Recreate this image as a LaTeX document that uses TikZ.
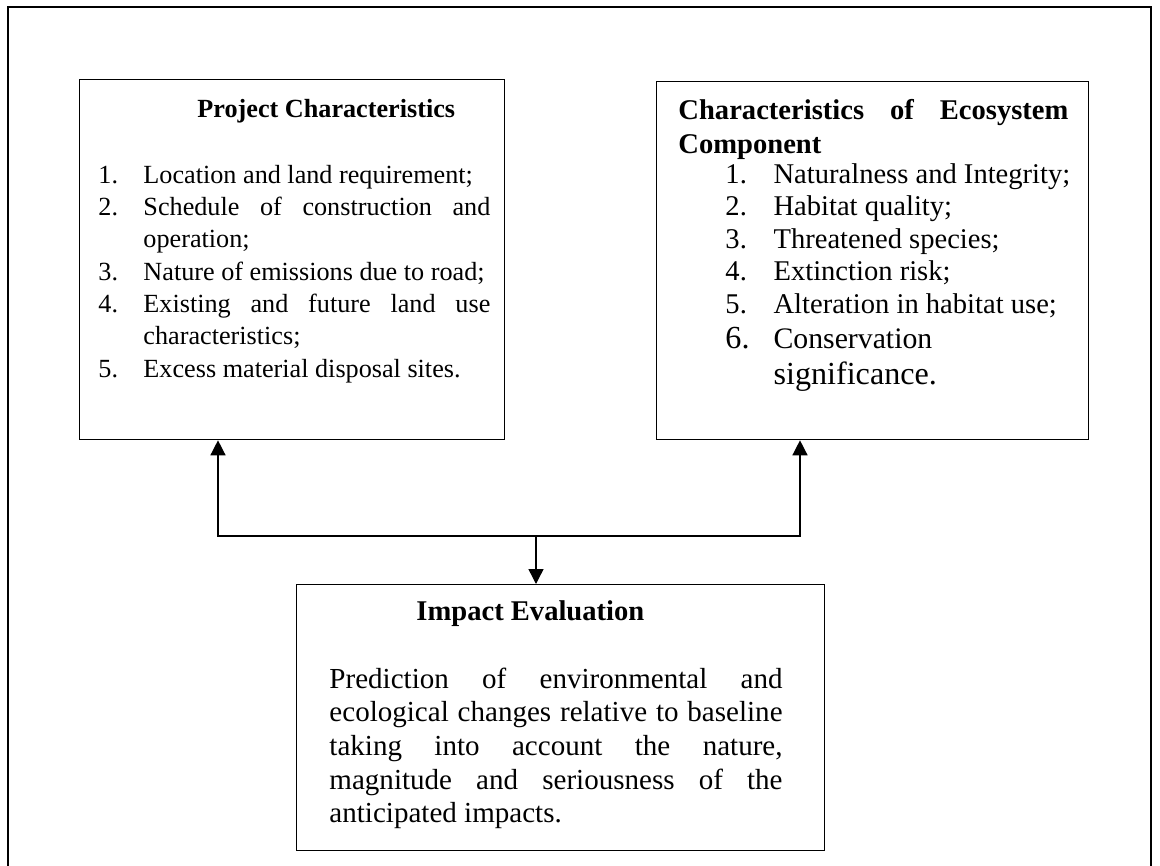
\documentclass[tikz,border=0pt]{standalone}
\usepackage{fontspec}
\setmainfont{Liberation Serif}
\usetikzlibrary{arrows.meta}

% numbered line with hanging indent
\newcommand{\numitem}[3]{\hangindent=#1\hangafter=1\noindent\makebox[#1][l]{#2}#3\par}
\hyphenpenalty=10000
\exhyphenpenalty=10000

\begin{document}
\begin{tikzpicture}[x=0.42pt, y=-0.42pt,
		boxframe/.style={draw, line width=0.55pt, anchor=north west, inner sep=0pt},
		head/.style={anchor=base west, inner sep=0pt},
		textblock/.style={anchor=base west, inner sep=0pt, align=justify},
		link/.style={line width=0.6pt, -{Triangle[length=6.3pt, width=6.3pt]}}]
	\useasboundingbox (0,0) rectangle (1160,866);
	\draw[line width=0.6pt] (8,866) -- (8,7) -- (1151,7) -- (1151,866);

	\node[boxframe, minimum width=178.5pt, minimum height=151.2pt] (projBox) at (79,79) {};
	\node[boxframe, minimum width=181.44pt, minimum height=150.36pt] (ecoBox) at (656,81) {};
	\node[boxframe, minimum width=221.76pt, minimum height=111.72pt] (impactBox) at (296,584) {};

	\node[head, font=\bfseries\fontsize{11}{13.6}\selectfont] (projHead) at (197,117) {Project Characteristics};
	\node[textblock, text width=164.6pt, font=\fontsize{11}{13.6}\selectfont] (projList) at (98,183) {%
		\numitem{18.9pt}{1.}{Location and land requirement;}%
		\numitem{18.9pt}{2.}{Schedule of construction and\linebreak operation;}%
		\numitem{18.9pt}{3.}{Nature of emissions due to road;}%
		\numitem{18.9pt}{4.}{Existing and future land use\linebreak characteristics;}%
		\numitem{18.9pt}{5.}{Excess material disposal sites.}%
	};

	\node[textblock, text width=163.8pt, font=\bfseries\fontsize{12}{14.3}\selectfont] (ecoHead) at (678,119) {Characteristics of Ecosystem\linebreak Component};
	\node[textblock, text width=147.4pt, font=\fontsize{12}{13.65}\selectfont] (ecoList) at (725,183) {%
		\numitem{20.2pt}{1.}{Naturalness and Integrity;}%
		\numitem{20.2pt}{2.}{Habitat quality;}%
		\numitem{20.2pt}{3.}{Threatened species;}%
		\numitem{20.2pt}{4.}{Extinction risk;}%
		\numitem{20.2pt}{5.}{Alteration in habitat use;}%
		\fontsize{13.5}{15.1}\selectfont
		\numitem{20.2pt}{6.}{{\fontsize{12.5}{15.1}\selectfont Conservation}\newline significance.}%
	};

	\node[head, font=\bfseries\fontsize{12}{14.15}\selectfont] (impactHead) at (416,620) {Impact Evaluation};
	\node[textblock, text width=190.3pt, font=\fontsize{12.2}{14.15}\selectfont] (impactText) at (329,688) {Prediction of environmental and\linebreak ecological changes relative to baseline\linebreak taking into account the nature,\linebreak magnitude and seriousness of the\linebreak anticipated impacts.};

	\coordinate (jLeft) at (218,536);
	\coordinate (jRight) at (800,536);
	\coordinate (jMid) at (536,536);
	\draw[link] (jMid) -- (jLeft) -- (jLeft |- projBox.south);
	\draw[link] (jMid) -- (jRight) -- (jRight |- ecoBox.south);
	\draw[link] (jMid) -- (jMid |- impactBox.north);
\end{tikzpicture}
\end{document}
